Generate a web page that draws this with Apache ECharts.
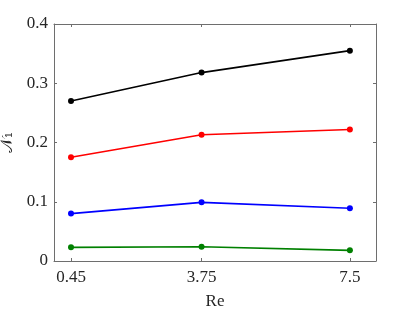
<!DOCTYPE html>
<html><head><meta charset="utf-8">
<script src="https://cdn.jsdelivr.net/npm/echarts@6/dist/echarts.min.js"></script>
<style>html,body{margin:0;padding:0;background:#fff}#c{width:415px;height:312px}</style>
</head><body><div id="c"></div>
<script>
const reValues = [0.45, 3.75, 7.5];
const xTickLabels = ['0.45', '3.75', '7.5'];
const yTicks = [0, 0.1, 0.2, 0.3, 0.4];
const blackSeries = [0.270, 0.318, 0.355];
const redSeries = [0.175, 0.213, 0.222];
const blueSeries = [0.080, 0.099, 0.089];
const greenSeries = [0.023, 0.024, 0.018];

const FONT = 'Liberation Serif';
const axisCol = '#6e6e6e';
const txtCol = '#262626';
const chart = echarts.init(document.getElementById('c'));
function pairs(v){ return reValues.map((x,i)=>[x, v[i]]); }
function mk(name, v, color){
  return {name, type:'line', data:pairs(v), symbol:'circle', symbolSize:6,
    itemStyle:{color}, lineStyle:{color, width:1.6}, animation:false};
}
const xBase = {type:'value', min:0.02, max:8.16, splitLine:{show:false},
  axisLine:{show:true, onZero:false, lineStyle:{color:axisCol, width:1}}};
const yBase = {type:'value', min:0, max:0.4, interval:0.1, splitLine:{show:false},
  axisLine:{show:true, onZero:false, lineStyle:{color:axisCol, width:1}}};
chart.setOption({
  animation:false,
  grid:{left:54, right:39, top:24, bottom:51, containLabel:false, outerBoundsMode:'none'},
  xAxis:[
    Object.assign({}, xBase, {position:'bottom', name:'Re', nameLocation:'middle', nameGap:32,
      nameTextStyle:{fontFamily:FONT, fontSize:17, color:txtCol},
      axisTick:{show:true, inside:true, length:3, customValues:reValues, lineStyle:{color:axisCol}},
      axisLabel:{show:true, customValues:reValues, margin:8, fontFamily:FONT, fontSize:17, color:txtCol,
        formatter:(v)=>xTickLabels[reValues.indexOf(v)] ?? String(v)}}),
    Object.assign({}, xBase, {position:'top',
      axisTick:{show:true, inside:true, length:3, customValues:reValues, lineStyle:{color:axisCol}},
      axisLabel:{show:false}})
  ],
  yAxis:[
    Object.assign({}, yBase, {position:'left', name:'𝒩₁', nameLocation:'middle', nameGap:36, nameRotate:90,
      nameTextStyle:{fontFamily:'DejaVu Serif, '+FONT, fontSize:16, color:txtCol},
      axisTick:{show:true, inside:true, length:3, lineStyle:{color:axisCol}},
      axisLabel:{show:true, margin:6, fontFamily:FONT, fontSize:17, color:txtCol,
        formatter:(v)=>String(+v.toFixed(2))}}),
    Object.assign({}, yBase, {position:'right',
      axisTick:{show:true, inside:true, length:3, lineStyle:{color:axisCol}},
      axisLabel:{show:false}})
  ],
  series:[
    mk('black', blackSeries, '#000000'),
    mk('red', redSeries, '#ff0000'),
    mk('blue', blueSeries, '#0000ff'),
    mk('green', greenSeries, '#008000')
  ]
});
</script></body></html>
